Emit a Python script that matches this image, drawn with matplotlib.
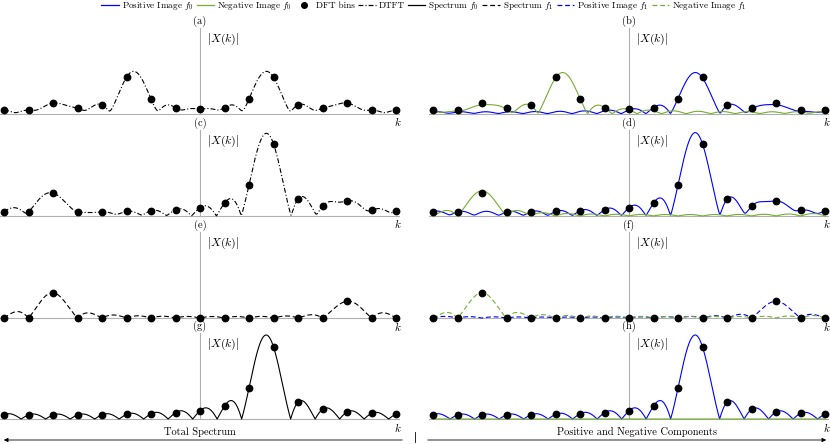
import numpy as np
import matplotlib
matplotlib.use("Agg")
import matplotlib.pyplot as plt
from matplotlib.lines import Line2D

plt.rcParams['font.family'] = ['cmr10', 'DejaVu Serif']
plt.rcParams['mathtext.fontset'] = 'cm'
plt.rcParams['axes.unicode_minus'] = False
plt.rcParams['lines.scale_dashes'] = False

# DFT setup: 17 bins, k = -8..8
n_fft = 17
bins = np.arange(-8, 9)

# tone positions (in bins) and amplitudes / phases (deg) read from peak heights
f0 = 2.7
f1 = 6.0
real_f0_amp, real_f0_phase = 0.5, 53.0     # rows (a)/(b): real signal
real_f1_amp, real_f1_phase = 0.13, 0.0
cplx_f0_amp = 1.0                          # rows (c), (g): complex f0
f1_pos_amp, f1_pos_phase = 0.20, 64.0      # rows (c), (e): f1 components
f1_neg_amp, f1_neg_phase = 0.30, 127.0

blue = '#0000ff'
green = '#77ac30'
gray = '#b0b0b0'


def dirichlet(k, f):
    d = np.asarray(k, float) - f
    num = np.sin(np.pi * d)
    den = n_fft * np.sin(np.pi * d / n_fft)
    out = np.ones_like(d)
    m = np.abs(den) > 1e-12
    out[m] = num[m] / den[m]
    return out


def tone(k, f, amp, phase_deg):
    return amp * np.exp(1j * np.deg2rad(phase_deg)) * dirichlet(k, f)


def rows_spectra(k):
    pa = tone(k, f0, real_f0_amp, real_f0_phase) + tone(k, f1, real_f1_amp, real_f1_phase)
    na = tone(k, -f0, real_f0_amp, -real_f0_phase) + tone(k, -f1, real_f1_amp, -real_f1_phase)
    pe = tone(k, f1, f1_pos_amp, f1_pos_phase)
    ne = tone(k, -f1, f1_neg_amp, f1_neg_phase)
    pg = tone(k, f0, cplx_f0_amp, 0.0)
    ng = np.zeros_like(pg)
    pc = pg + pe
    nc = ne
    return [(pa, na), (pc, nc), (pe, ne), (pg, ng)]


kk = np.linspace(-8, 8, 1601)
curves = rows_spectra(kk)
points = rows_spectra(bins)

dashdot = (0, (3.5, 1.5, 0.8, 1.5))
dashed = (0, (3.5, 2.0))
left_styles = [dashdot, dashdot, dashed, '-']
right_styles = ['-', '-', dashed, '-']
left_names = ['(a)', '(c)', '(e)', '(g)']
right_names = ['(b)', '(d)', '(f)', '(h)']

W, H = 830, 444
fig = plt.figure(figsize=(W / 100, H / 100), dpi=100)

px_unit = 84.0          # pixels per unit amplitude
bin_px = 24.5
baselines = [114, 216, 318, 419]
col_left = [0, 429]
ylo, yhi = -3 / px_unit, 88 / px_unit
half = 8 + 4 / bin_px

for r, base in enumerate(baselines):
    pos, neg = curves[r]
    ppos, pneg = points[r]
    total = np.abs(pos + neg)
    dots = np.abs(ppos + pneg)
    for c, x0 in enumerate(col_left):
        ax = fig.add_axes([x0 / W, 1 - (base + 3) / H, 400 / W, 91 / H])
        ax.set_xlim(-half, half)
        ax.set_ylim(ylo, yhi)
        ax.axis('off')
        ax.axhline(0, color=gray, lw=0.8, zorder=1)
        ax.plot([0, 0], [0, 86 / px_unit], color=gray, lw=0.8, zorder=1)
        if c == 0:
            ax.plot(kk, total, color='black', lw=0.8, linestyle=left_styles[r], zorder=3)
            name = left_names[r]
        else:
            ax.plot(kk, np.abs(pos), color=blue, lw=0.8, linestyle=right_styles[r], zorder=3)
            ax.plot(kk, np.abs(neg), color=green, lw=0.8, linestyle=right_styles[r], zorder=3)
            name = right_names[r]
        ax.plot(bins, dots, 'o', color='black', ms=4.6, zorder=4, clip_on=False)
        ax.text(0, 93 / px_unit, name, ha='center', va='center', fontsize=7.5, clip_on=False)
        ax.text(0.28, 75 / px_unit, r'$|X(k)|$', ha='left', va='center', fontsize=8.5, clip_on=False)
        ax.text(8.08, -8 / px_unit, r'$k$', ha='center', va='center', fontsize=8, clip_on=False)

# legend
handles = [
    Line2D([], [], color=blue, lw=0.9),
    Line2D([], [], color=green, lw=0.9),
    Line2D([], [], color='black', marker='o', ms=4, linestyle='none'),
    Line2D([], [], color='black', lw=0.9, linestyle=dashdot),
    Line2D([], [], color='black', lw=0.9),
    Line2D([], [], color='black', lw=0.9, linestyle=dashed),
    Line2D([], [], color=blue, lw=0.9, linestyle=dashed),
    Line2D([], [], color=green, lw=0.9, linestyle=dashed),
]
labels = ['Positive Image $f_0$', 'Negative Image $f_0$', 'DFT bins', 'DTFT',
          'Spectrum $f_0$', 'Spectrum $f_1$', 'Positive Image $f_1$', 'Negative Image $f_1$']
fig.legend(handles, labels, ncol=8, loc='center', bbox_to_anchor=(424 / W, 1 - 6 / H),
           frameon=False, fontsize=6.6, handlelength=1.9, handletextpad=0.3,
           columnspacing=0.4, borderpad=0, borderaxespad=0)

# bottom arrows and captions
fig.add_artist(plt.Line2D([415 / W, 415 / W], [2 / H, 12 / H], color='black', lw=0.6))
ax_b = fig.add_axes([0, 0, 1, 1], facecolor='none')
ax_b.set_xlim(0, W)
ax_b.set_ylim(H, 0)
ax_b.axis('off')
ax_b.annotate('', xy=(1, 440), xytext=(405, 440),
              arrowprops=dict(arrowstyle='-|>', color='black', lw=0.6, mutation_scale=6))
ax_b.annotate('', xy=(829, 440), xytext=(425, 440),
              arrowprops=dict(arrowstyle='-|>', color='black', lw=0.6, mutation_scale=6))
ax_b.text(200, 432, 'Total Spectrum', ha='center', va='center', fontsize=7.5)
ax_b.text(637, 432, 'Positive and Negative Components', ha='center', va='center', fontsize=7.5)

fig.savefig('out.png', dpi=100)
